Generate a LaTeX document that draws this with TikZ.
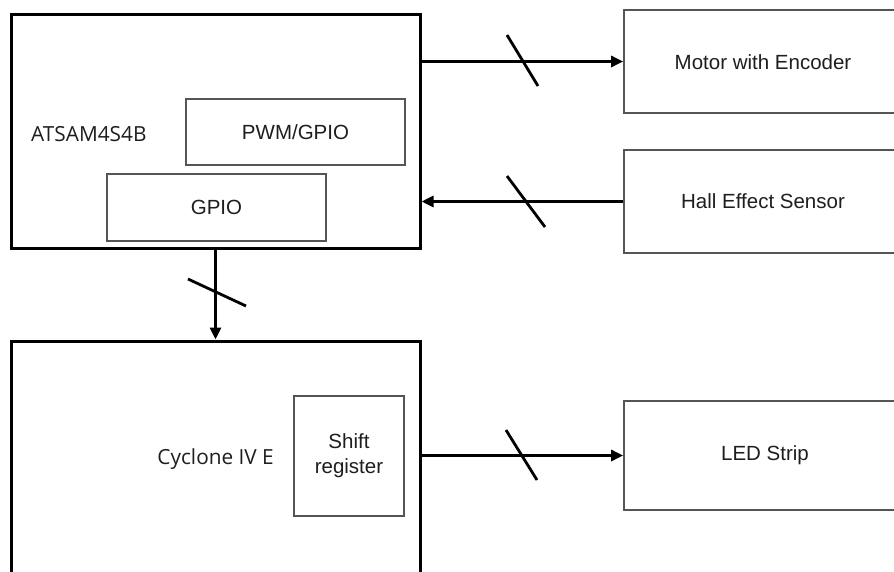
\documentclass[tikz,border=0pt]{standalone}
\usepackage{fontspec}
\setmainfont{Liberation Sans}
\newfontfamily\labelfont{Open Sans}
\usetikzlibrary{arrows.meta,calc}
\definecolor{txt}{HTML}{1E1E1E}
\definecolor{thin}{HTML}{555555}
\tikzset{
  outerbox/.style={draw=black, line width=3pt, inner sep=0pt},
  innerbox/.style={draw=thin, line width=1.5pt, inner sep=0pt, font=\fontsize{20.5}{25}\selectfont, text=txt, align=center},
  sidebox/.style={draw=thin, line width=1.8pt, inner sep=0pt},
  sidelabel/.style={text=txt, font=\fontsize{20.5}{25}\selectfont, inner sep=0pt},
  chiplabel/.style={font=\labelfont\fontsize{20.8}{25}\selectfont, text=txt, inner sep=0pt},
  bus/.style={line width=3pt, -{Triangle[length=12pt,width=11pt]}},
  slashline/.style={line width=2.8pt}
}
\begin{document}
\begin{tikzpicture}[x=1pt,y=-1pt]
\useasboundingbox (0,0) rectangle (894,571);
\fill[white] (0,0) rectangle (894,571);
\clip (0,0) rectangle (894,571);
% main blocks
\node[outerbox, minimum width=409pt, minimum height=233.5pt] (atsam) at (215.5,131.25) {};
\node[innerbox, minimum width=219pt, minimum height=66pt] (pwm) at (295.5,132) {PWM/GPIO};
\node[innerbox, minimum width=219pt, minimum height=67pt] (gpio) at (216.5,207.5) {GPIO};
\node[chiplabel, anchor=west] (atsamlbl) at (31,134) {ATSAM4S4B};

\node[outerbox, minimum width=409pt, minimum height=250pt] (cyclone) at (215.5,466) {};
\node[innerbox, minimum width=110pt, minimum height=120pt] (shift) at (349,456) {Shift\\register};
\node[chiplabel, anchor=east] (cyclonelbl) at (274,459) {Cyclone IV E};

% side blocks
\node[sidebox, minimum width=276pt, minimum height=103pt] (motor) at (762,61.5) {};
\node[sidebox, minimum width=276pt, minimum height=103pt] (hall) at (762,201.5) {};
\node[sidebox, minimum width=276pt, minimum height=109pt] (led) at (762,455.5) {};
\node[sidelabel] (motorlbl) at (763,62) {Motor with Encoder};
\node[sidelabel] (halllbl) at (763,201) {Hall Effect Sensor};
\node[sidelabel] (ledlbl) at (765,455) {LED Strip};

% connectors
\draw[bus] (motor.west -| atsam.east) -- (motor.west);
\draw[bus] (hall.west) -- (hall.west -| atsam.east);
\draw[bus] (atsam.south) -- (cyclone.north);
\draw[bus] (led.west -| cyclone.east) -- (led.west);

% bus slashes
\coordinate (s1) at (522.5,60.5);
\coordinate (s2) at (526,201.5);
\coordinate (s3) at (217,292.5);
\coordinate (s4) at (521.5,455);
\draw[slashline] ($(s1)+(-15.5,-25.5)$) -- ($(s1)+(15.5,25.5)$);
\draw[slashline] ($(s2)+(-19,-25.5)$) -- ($(s2)+(19,25.5)$);
\draw[slashline] ($(s3)+(-29,-13.5)$) -- ($(s3)+(29,13.5)$);
\draw[slashline] ($(s4)+(-15.5,-25)$) -- ($(s4)+(15.5,25)$);
\end{tikzpicture}
\end{document}
